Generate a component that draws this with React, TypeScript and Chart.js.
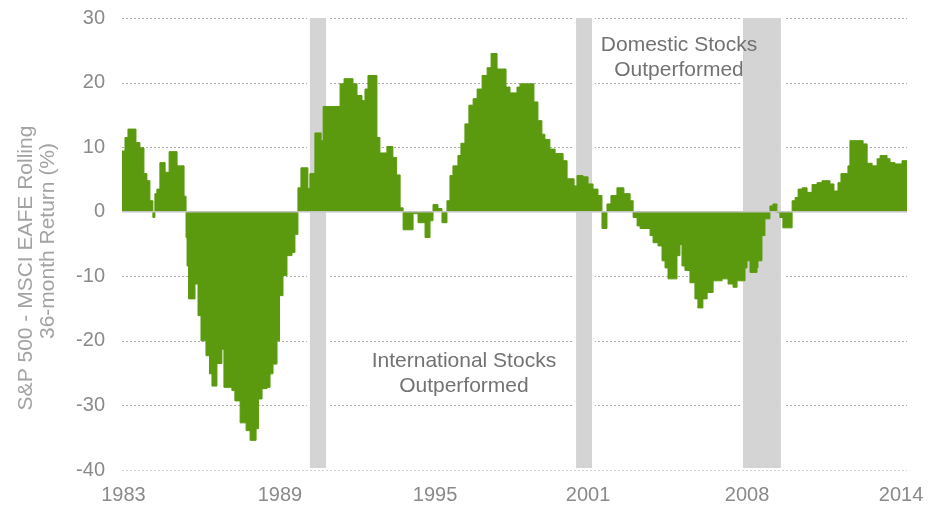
import React, { useEffect, useRef } from 'react';
import { Chart, registerables } from 'chart.js';

Chart.register(...registerables);

// Plateau start (decimal year) and S&P 500 minus MSCI EAFE rolling 36-month return (%)
const years = [
  1983.00, 1983.12, 1983.24, 1983.56, 1983.72, 1983.88, 1984.00, 1984.12, 1984.24, 1984.32,
  1984.40, 1984.52, 1984.73, 1984.89, 1985.21, 1985.49, 1985.57, 1985.61, 1985.67, 1985.93,
  1986.05, 1986.17, 1986.37, 1986.51, 1986.61, 1986.81, 1987.01, 1987.09, 1987.41, 1987.53,
  1987.74, 1987.98, 1988.14, 1988.38, 1988.48, 1988.62, 1988.82, 1988.94, 1989.06, 1989.22,
  1989.32, 1989.46, 1989.62, 1989.82, 1989.94, 1990.06, 1990.18, 1990.46, 1990.54, 1990.74,
  1990.99, 1991.07, 1991.75, 1991.91, 1992.27, 1992.43, 1992.63, 1992.75, 1992.87, 1993.23,
  1993.35, 1993.63, 1993.87, 1994.02, 1994.16, 1994.28, 1994.68, 1994.88, 1995.16, 1995.36,
  1995.48, 1995.68, 1995.84, 1996.04, 1996.16, 1996.28, 1996.48, 1996.60, 1996.76, 1996.92,
  1997.09, 1997.25, 1997.45, 1997.65, 1997.81, 1998.05, 1998.41, 1998.57, 1998.85, 1998.97,
  1999.53, 1999.69, 1999.85, 1999.97, 2000.17, 2000.38, 2000.70, 2000.86, 2001.14, 2001.26,
  2001.50, 2001.70, 2001.90, 2002.10, 2002.26, 2002.46, 2002.62, 2002.86, 2003.14, 2003.39,
  2003.51, 2003.67, 2003.79, 2004.19, 2004.31, 2004.51, 2004.67, 2004.79, 2004.91, 2005.27,
  2005.39, 2005.47, 2005.59, 2005.79, 2005.99, 2006.11, 2006.31, 2006.48, 2006.72, 2007.08,
  2007.32, 2007.52, 2007.68, 2008.00, 2008.08, 2008.20, 2008.48, 2008.52, 2008.68, 2008.80,
  2009.00, 2009.12, 2009.28, 2009.40, 2009.52, 2009.89, 2010.01, 2010.13, 2010.29, 2010.49,
  2010.69, 2010.89, 2011.09, 2011.41, 2011.57, 2011.73, 2011.85, 2012.13, 2012.21, 2012.74,
  2012.90, 2013.10, 2013.30, 2013.42, 2013.70, 2013.82, 2014.02, 2014.30, 2014.50,
];

const values = [
  9.4, 11.5, 12.8, 10.7, 9.9, 5.9, 4.8, 1.7, -0.9, 2.8,
  3.5, 7.6, 6.1, 9.3, 7.1, 2.4, -4.0, -8.4, -13.5, -11.2,
  -16.1, -20.0, -22.3, -25.1, -27.0, -23.5, -21.3, -27.2, -27.7, -29.3,
  -32.7, -33.9, -35.4, -33.6, -29.0, -27.4, -27.2, -25.1, -23.6, -20.0,
  -13.0, -9.9, -6.8, -6.3, -3.5, 3.7, 6.8, 3.6, 5.9, 12.2,
  11.0, 16.3, 19.8, 20.6, 19.8, 18.0, 17.2, 19.0, 21.1, 11.5,
  9.1, 10.1, 8.4, 5.7, 0.6, -2.8, -0.3, -1.7, -4.0, -1.4,
  1.1, 0.5, -1.7, 1.7, 5.6, 7.1, 8.7, 10.6, 13.6, 16.5,
  17.5, 19.0, 21.1, 22.3, 24.5, 22.1, 19.3, 18.4, 19.3, 19.8,
  17.0, 14.1, 12.0, 11.2, 9.7, 9.0, 7.9, 5.1, 4.0, 5.6,
  5.4, 4.3, 3.5, 2.5, -2.6, 1.2, 2.5, 3.7, 2.8, 1.7,
  -0.9, -2.2, -2.6, -3.7, -4.8, -5.3, -7.6, -8.7, -10.4, -6.8,
  -5.1, -8.4, -9.1, -11.0, -13.5, -14.9, -13.5, -12.5, -10.7, -10.4,
  -11.2, -11.7, -10.7, -8.7, -7.6, -9.4, -8.7, -7.6, -3.7, -1.1,
  0.9, 1.2, -0.1, -0.9, -2.5, 1.7, 2.2, 3.5, 3.7, 3.0,
  4.2, 4.5, 4.8, 4.3, 3.2, 4.5, 5.9, 7.1, 11.0, 10.5,
  7.5, 7.1, 8.2, 8.7, 8.2, 7.6, 7.4, 7.9, 7.9,
];

const yTicks = [-40, -30, -20, -10, 0, 10, 20, 30];
const xTickLabels = ['1983', '1989', '1995', '2001', '2008', '2014'];
const xTickYears = [1983.06, 1989.34, 1995.56, 2001.70, 2008.08, 2014.26];

// Shaded periods (decimal years)
const bandStarts = [1990.54, 2001.22, 2007.92];
const bandEnds = [1991.19, 2001.86, 2009.44];

const yTitleLines = ['S&P 500 - MSCI EAFE Rolling', '36-month Return (%)'];
const domesticLines = ['Domestic Stocks', 'Outperformed'];
const internationalLines = ['International Stocks', 'Outperformed'];

const FONT = '"Liberation Sans", Arial, Helvetica, sans-serif';
const GREEN = '#5b9a0e';

const decorPlugin = {
  id: 'decor',
  beforeDatasetsDraw(chart: any) {
    const { ctx, chartArea: a, scales } = chart;
    const x = scales.x;
    const y = scales.y;
    ctx.save();
    yTicks.forEach((v) => {
      if (v === 0) return;
      const py = Math.round(y.getPixelForValue(v)) + 0.5;
      ctx.strokeStyle = v === -40 ? '#d2d2d2' : '#ababab';
      ctx.setLineDash([2, 2]);
      ctx.lineWidth = 1;
      ctx.beginPath();
      ctx.moveTo(a.left, py);
      ctx.lineTo(a.right, py);
      ctx.stroke();
    });
    ctx.setLineDash([]);
    bandStarts.forEach((s, i) => {
      const x0 = x.getPixelForValue(s);
      const x1 = x.getPixelForValue(bandEnds[i]);
      ctx.fillStyle = '#ffffff';
      ctx.fillRect(x0 - 3, a.top, x1 - x0 + 6, a.bottom - a.top);
      ctx.fillStyle = '#d4d4d4';
      ctx.fillRect(x0, a.top, x1 - x0, a.bottom - a.top - 2);
    });
    ctx.restore();
  },
  afterDatasetsDraw(chart: any) {
    const { ctx, chartArea: a, scales } = chart;
    const py = scales.y.getPixelForValue(0);
    ctx.save();
    ctx.strokeStyle = '#c4c4c4';
    ctx.lineWidth = 1.5;
    ctx.beginPath();
    ctx.moveTo(a.left, py);
    ctx.lineTo(a.right, py);
    ctx.stroke();
    ctx.restore();
  },
  afterDraw(chart: any) {
    const { ctx, scales } = chart;
    const x = scales.x;
    const y = scales.y;
    ctx.save();
    ctx.font = `21px ${FONT}`;
    ctx.textAlign = 'center';
    ctx.textBaseline = 'middle';
    ctx.fillStyle = '#727272';
    const dx = x.getPixelForValue(2005.35);
    ctx.fillText(domesticLines[0], dx, y.getPixelForValue(25.8));
    ctx.fillText(domesticLines[1], dx, y.getPixelForValue(21.9));
    const ix = x.getPixelForValue(1996.72);
    ctx.fillText(internationalLines[0], ix, y.getPixelForValue(-23.2));
    ctx.fillText(internationalLines[1], ix, y.getPixelForValue(-27.0));

    ctx.fillStyle = '#a3a3a3';
    ctx.textBaseline = 'alphabetic';
    const pos = [
      [32, 268],
      [54, 241],
    ];
    yTitleLines.forEach((t, i) => {
      ctx.save();
      ctx.translate(pos[i][0], pos[i][1]);
      ctx.rotate(-Math.PI / 2);
      ctx.fillText(t, 0, 0);
      ctx.restore();
    });
    ctx.restore();
  },
};

export default function App() {
  const canvasRef = useRef<HTMLCanvasElement | null>(null);

  useEffect(() => {
    document.body.style.margin = '0';
    const canvas = canvasRef.current;
    if (!canvas) return;
    const points = years.map((yr, i) => ({ x: yr, y: values[i] }));
    const chart = new Chart(canvas, {
      type: 'line',
      data: {
        datasets: [
          {
            data: points,
            stepped: 'before',
            fill: 'origin',
            backgroundColor: GREEN,
            borderColor: GREEN,
            borderWidth: 1,
            pointRadius: 0,
            tension: 0,
          },
        ],
      },
      options: {
        animation: false,
        responsive: false,
        layout: { padding: { top: 18, right: 34, left: 0, bottom: 0 } },
        plugins: {
          legend: { display: false },
          tooltip: { enabled: false },
        },
        scales: {
          x: {
            type: 'linear',
            min: 1983,
            max: 2014.5,
            grid: { display: false, drawTicks: false },
            border: { display: false },
            afterBuildTicks: (scale: any) => {
              scale.ticks = xTickYears.map((v) => ({ value: v }));
            },
            afterFit: (scale: any) => {
              scale.height = 37;
              scale.paddingLeft = 0;
              scale.paddingRight = 0;
            },
            ticks: {
              autoSkip: false,
              maxRotation: 0,
              padding: 13,
              color: '#8a8a8a',
              font: { size: 20, family: FONT },
              callback: (_v: any, i: number) => xTickLabels[i],
            },
          },
          y: {
            type: 'linear',
            min: -40,
            max: 30,
            grid: { display: false, drawTicks: false },
            border: { display: false },
            afterBuildTicks: (scale: any) => {
              scale.ticks = yTicks.map((v) => ({ value: v }));
            },
            afterFit: (scale: any) => {
              scale.width = 122;
              scale.paddingTop = 0;
              scale.paddingBottom = 0;
            },
            ticks: {
              padding: 17,
              color: '#8a8a8a',
              font: { size: 20, family: FONT },
              callback: (v: any) => String(v),
            },
          },
        },
      },
      plugins: [decorPlugin],
    });
    return () => chart.destroy();
  }, []);

  return (
    <div style={{ width: 941, height: 507 }}>
      <canvas ref={canvasRef} width={941} height={507} />
    </div>
  );
}
